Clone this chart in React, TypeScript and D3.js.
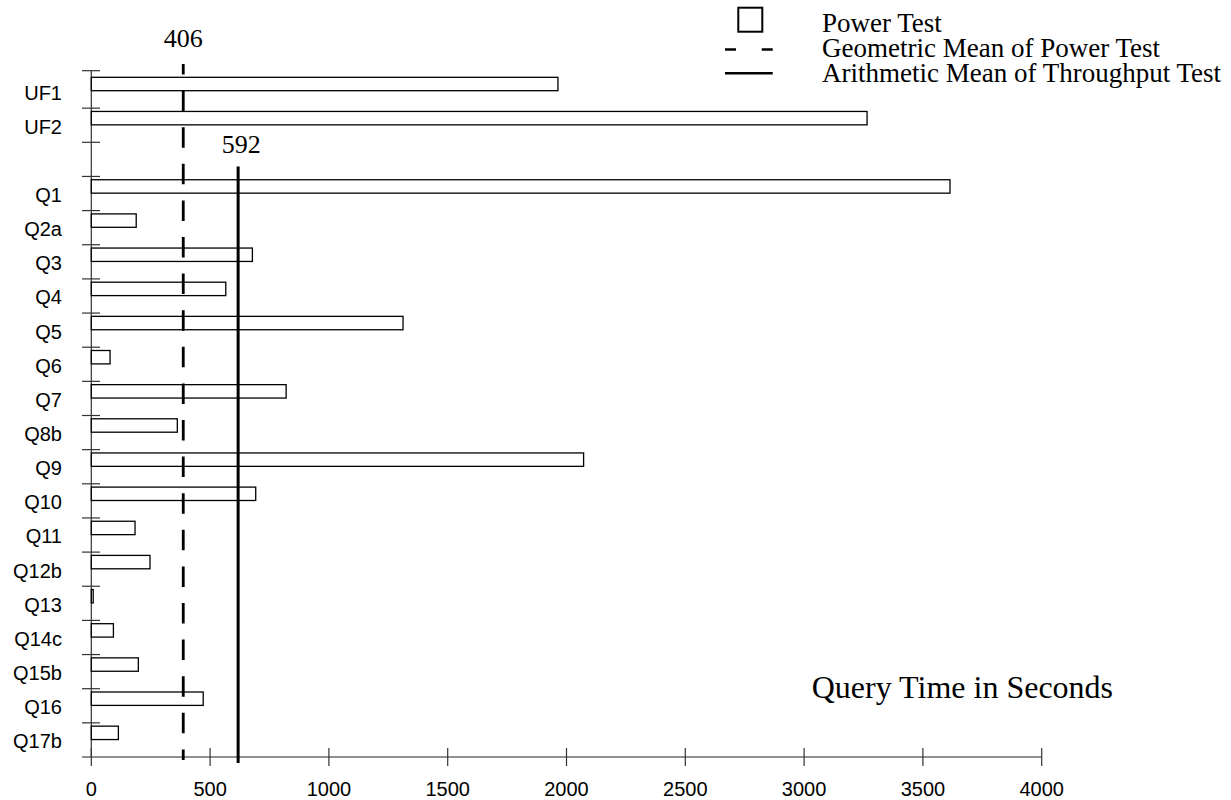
import React from "react";
import * as d3 from "d3";

const categories = ["UF1", "UF2", "", "Q1", "Q2a", "Q3", "Q4", "Q5", "Q6", "Q7", "Q8b", "Q9", "Q10", "Q11", "Q12b", "Q13", "Q14c", "Q15b", "Q16", "Q17b"];
const powerTest = [1964, 3265, null, 3614, 189, 678, 566, 1312, 79, 820, 362, 2072, 692, 184, 247, 8, 93, 198, 471, 114];
const xTicks = [0, 500, 1000, 1500, 2000, 2500, 3000, 3500, 4000];
const geoMeanPos = 387;
const geoMeanLabel = "406";
const arithMeanPos = 618;
const arithMeanLabel = "592";
const legendLabels = ["Power Test", "Geometric Mean of Power Test", "Arithmetic Mean of Throughput Test"];
const axisTitle = "Query Time in Seconds";

const W = 1231;
const H = 800;
const x0 = 91.3;
const x1 = 1041.7;
const yTop = 70.7;
const yBottom = 757;
const sans = "'Liberation Sans', Arial, sans-serif";
const serif = "'Liberation Serif', 'Times New Roman', serif";

export default function App() {
  const x = d3.scaleLinear().domain([0, 4000]).range([x0, x1]);
  const y = d3.scaleBand<string>().domain(categories).range([74, yBottom]).paddingInner(0).paddingOuter(0);

  const yTickPos = [yTop, ...categories.slice(1).map((c) => y(c) as number)];

  return (
    <svg width={W} height={H} style={{ position: "absolute", left: 0, top: 0, background: "#fff" }}>
      {/* y axis */}
      <line x1={x0} x2={x0} y1={yTop} y2={yBottom} stroke="#333" strokeWidth={1.2} />
      {yTickPos.map((p, i) => (
        <line key={"yt" + i} x1={82} x2={100} y1={p} y2={p} stroke="#333" strokeWidth={1.2} />
      ))}
      {/* x axis */}
      <line x1={82} x2={x1} y1={yBottom} y2={yBottom} stroke="#222" strokeWidth={1.2} />
      {xTicks.map((t) => (
        <g key={"xt" + t}>
          <line x1={x(t)} x2={x(t)} y1={yBottom - 9} y2={yBottom + 9} stroke="#333" strokeWidth={1.2} />
          <text x={x(t)} y={795.5} textAnchor="middle" fontFamily={sans} fontSize={20} fill="#000">
            {t}
          </text>
        </g>
      ))}
      {/* bars */}
      {categories.map((c, i) => {
        const v = powerTest[i];
        const yb = y(c) as number;
        return (
          <g key={"b" + i}>
            {v !== null && (
              <rect x={x(0)} y={yb + 3.3} width={x(v) - x(0)} height={13.4} fill="#fff" stroke="#000" strokeWidth={1.3} />
            )}
            {c !== "" && (
              <text x={62} y={yb + 25.5} textAnchor="end" fontFamily={sans} fontSize={20} fill="#000">
                {c}
              </text>
            )}
          </g>
        );
      })}
      {/* mean lines */}
      <line x1={x(geoMeanPos)} x2={x(geoMeanPos)} y1={64} y2={760} stroke="#000" strokeWidth={2.8} strokeDasharray="20.5 16.1" strokeDashoffset={10} />
      <text x={x(geoMeanPos)} y={46.5} textAnchor="middle" fontFamily={serif} fontSize={26} fill="#000">
        {geoMeanLabel}
      </text>
      <line x1={x(arithMeanPos)} x2={x(arithMeanPos)} y1={166.5} y2={763} stroke="#000" strokeWidth={3} />
      <text x={x(arithMeanPos) + 3} y={153} textAnchor="middle" fontFamily={serif} fontSize={26} fill="#000">
        {arithMeanLabel}
      </text>
      {/* legend */}
      <rect x={738.3} y={7.7} width={24} height={24} fill="#fff" stroke="#000" strokeWidth={2} />
      <line x1={725} x2={736} y1={49.5} y2={49.5} stroke="#000" strokeWidth={2.5} />
      <line x1={761.7} x2={772.7} y1={49.5} y2={49.5} stroke="#000" strokeWidth={2.5} />
      <line x1={725} x2={772.7} y1={73.3} y2={73.3} stroke="#000" strokeWidth={2.5} />
      {legendLabels.map((l, i) => (
        <text key={"lg" + i} x={822} y={31.5 + i * 25} fontFamily={serif} fontSize={27} fill="#000">
          {l}
        </text>
      ))}
      <text x={811.7} y={698.3} fontFamily={serif} fontSize={32} fill="#000">
        {axisTitle}
      </text>
    </svg>
  );
}
